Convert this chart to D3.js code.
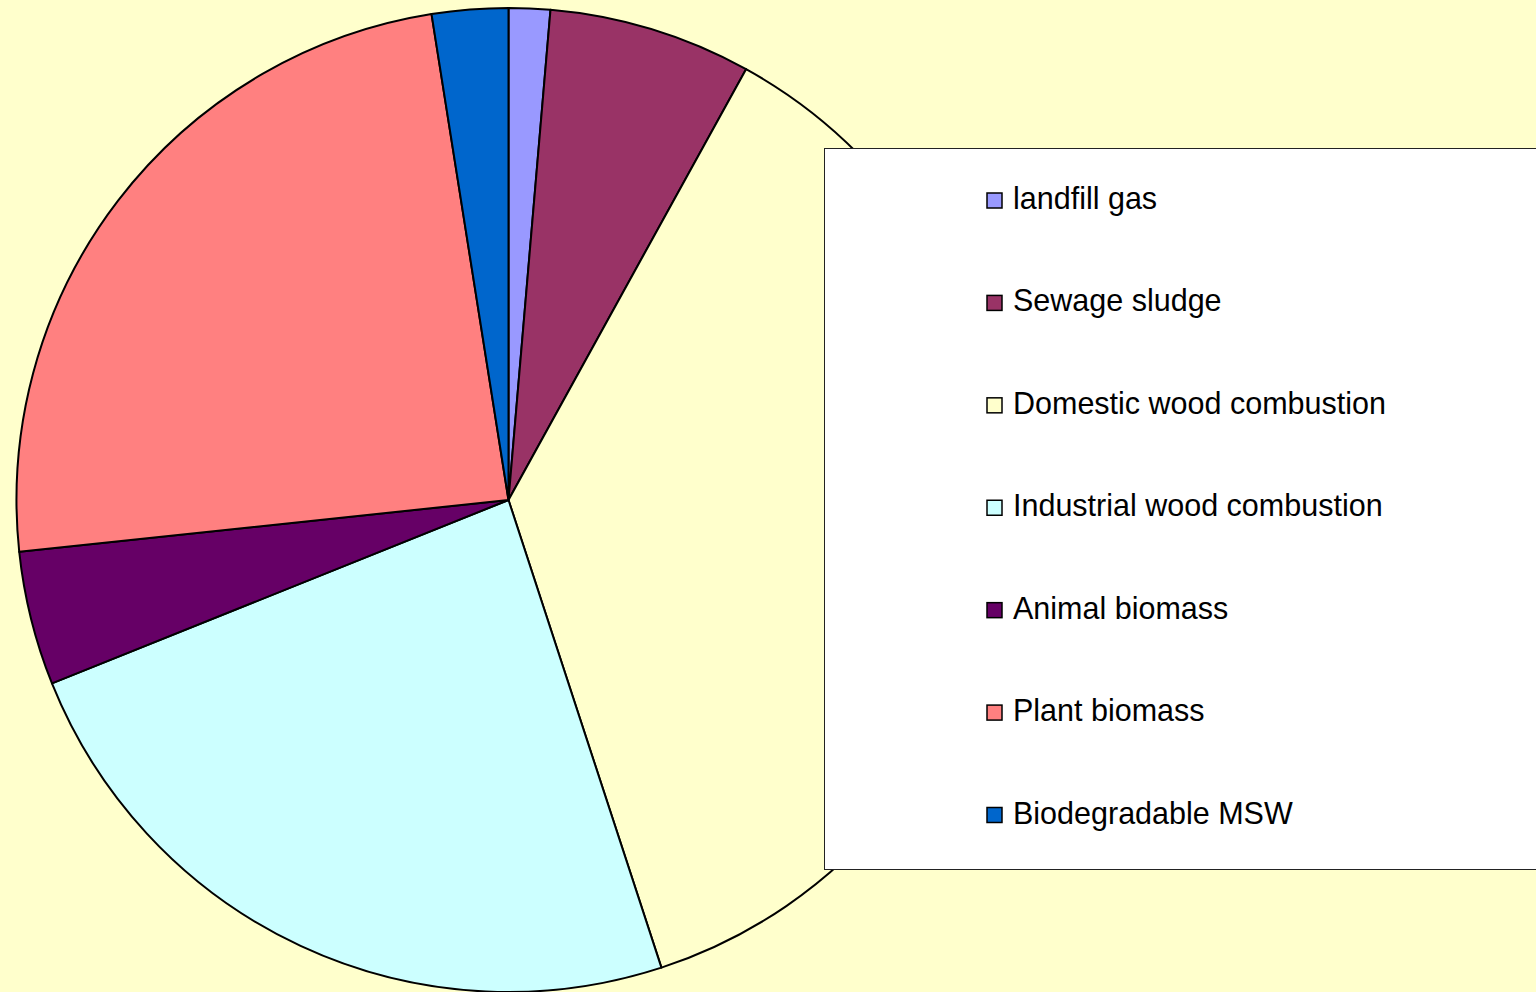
<!DOCTYPE html>
<html>
<head>
<meta charset="utf-8">
<script src="https://cdn.jsdelivr.net/npm/d3@7"></script>
<style>
  html, body { margin: 0; padding: 0; background: #FFFFCC; }
  svg { display: block; }
</style>
</head>
<body>
<svg id="chart" width="1536" height="992"></svg>
<script>
// Biomass sources, share of total (%)
const categories = [
  "landfill gas",
  "Sewage sludge",
  "Domestic wood combustion",
  "Industrial wood combustion",
  "Animal biomass",
  "Plant biomass",
  "Biodegradable MSW"
];
const shares = [1.36, 6.66, 36.95, 23.95, 4.40, 24.18, 2.50];
const colors = ["#9999FF", "#993366", "#FFFFCC", "#CCFFFF", "#660066", "#FF8080", "#0066CC"];

const W = 1536, H = 992;
const svg = d3.select("#chart");

svg.append("rect").attr("width", W).attr("height", H).attr("fill", "#FFFFCC");

const cx = 508.5, cy = 500, r = 492;
const data = categories.map((c, i) => ({ name: c, value: shares[i], color: colors[i] }));

const pie = d3.pie().value(d => d.value).sort(null);
const arc = d3.arc().innerRadius(0).outerRadius(r);

svg.append("g")
  .attr("transform", `translate(${cx},${cy})`)
  .selectAll("path")
  .data(pie(data))
  .join("path")
  .attr("d", arc)
  .attr("fill", d => d.data.color)
  .attr("stroke", "#000")
  .attr("stroke-width", 2)
  .attr("stroke-linejoin", "round");

// Legend panel
const lg = { x: 824, y: 148, w: 740, h: 721 };
svg.append("rect")
  .attr("x", lg.x + 0.5).attr("y", lg.y + 0.5)
  .attr("width", lg.w).attr("height", lg.h)
  .attr("fill", "#FFFFFF")
  .attr("stroke", "#222")
  .attr("stroke-width", 1);

const rowY = d3.scalePoint().domain(categories).range([200.5, 815]);

const items = svg.append("g")
  .selectAll("g")
  .data(data)
  .join("g")
  .attr("transform", d => `translate(0,${rowY(d.name)})`);

items.append("rect")
  .attr("x", 987).attr("y", -7.5)
  .attr("width", 15).attr("height", 15)
  .attr("fill", d => d.color)
  .attr("stroke", "#000")
  .attr("stroke-width", 1.5);

items.append("text")
  .attr("x", 1013).attr("y", 8.5)
  .attr("font-family", "Liberation Sans, Arial, sans-serif")
  .attr("font-size", 30.5)
  .attr("fill", "#000")
  .text(d => d.name);
</script>
</body>
</html>
